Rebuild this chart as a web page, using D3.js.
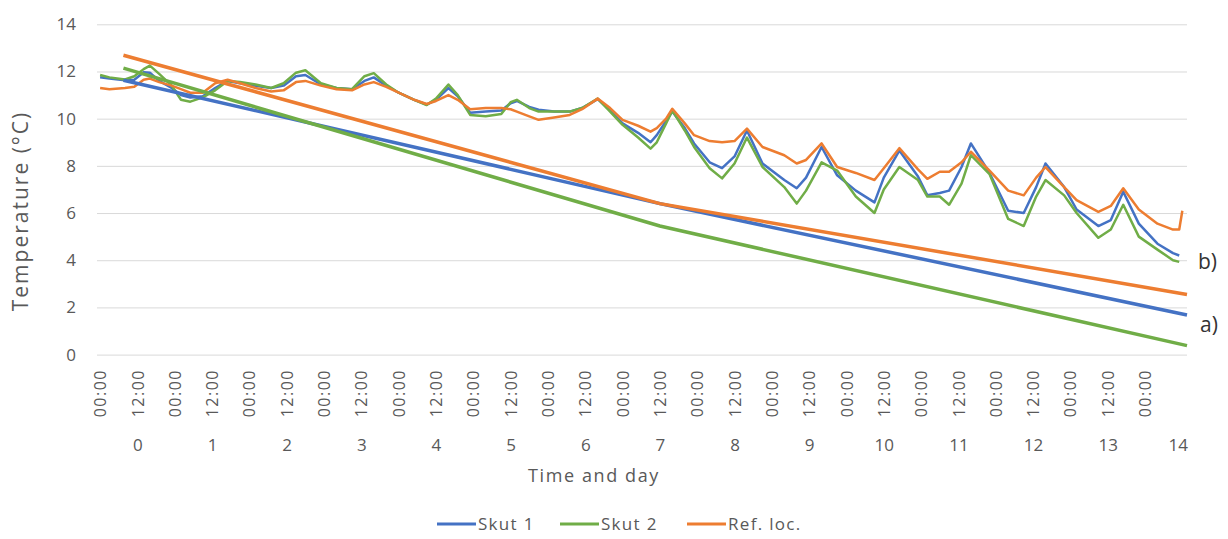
<!DOCTYPE html>
<html>
<head>
<meta charset="UTF-8">
<title>Temperature</title>
<style>
  body { margin: 0; background: #fff; }
  svg text { font-family: "Open Sans", sans-serif; fill: #595959; }
</style>
</head>
<body>
<script src="https://cdn.jsdelivr.net/npm/d3@7/dist/d3.min.js"></script>
<script>
// measured series, x in hours from day 0 00:00
var hours = [0, 3, 8, 11, 14, 16, 19, 23, 26, 29, 33, 37, 41, 45, 50, 55, 59, 63, 66, 71,
  76, 81, 85, 88, 92, 96, 101, 105, 108, 112, 115, 119, 124, 129, 132, 134, 138, 141, 146, 151,
  155, 160, 164, 168, 173, 177, 179, 182, 184, 188, 191, 196, 200, 204, 208, 213, 220, 224, 227, 232,
  237, 243, 249, 252, 257, 263, 266, 270, 273, 277, 280, 286, 292, 297, 301, 304, 310, 314, 321, 325,
  329, 334, 340, 345, 347, 348];

var skut1 = [11.76, 11.7, 11.63, 11.65, 11.97, 11.95, 11.6, 11.3, 11.0, 10.9, 10.95, 11.3, 11.6, 11.5, 11.4, 11.3, 11.4, 11.8, 11.85, 11.45,
  11.3, 11.25, 11.6, 11.75, 11.4, 11.1, 10.8, 10.6, 10.8, 11.3, 10.95, 10.25, 10.3, 10.35, 10.65, 10.75, 10.5, 10.38, 10.3, 10.3,
  10.45, 10.83, 10.35, 9.8, 9.4, 9.0, 9.3, 9.9, 10.3, 9.6, 8.95, 8.15, 7.9, 8.4, 9.5, 8.1, 7.4, 7.05, 7.5, 8.8,
  7.6, 6.95, 6.45, 7.5, 8.65, 7.55, 6.75, 6.85, 6.95, 7.95, 8.95, 7.7, 6.1, 6.0, 7.1, 8.1, 7.1, 6.15, 5.45, 5.7,
  6.9, 5.55, 4.7, 4.3, 4.2, null];

var skut2 = [11.85, 11.75, 11.66, 11.8, 12.1, 12.25, 11.9, 11.4, 10.8, 10.72, 10.9, 11.2, 11.6, 11.55, 11.45, 11.3, 11.5, 11.95, 12.05, 11.5,
  11.3, 11.25, 11.8, 11.93, 11.45, 11.1, 10.8, 10.58, 10.85, 11.45, 11.0, 10.16, 10.1, 10.2, 10.7, 10.8, 10.45, 10.3, 10.3, 10.3,
  10.45, 10.85, 10.3, 9.74, 9.2, 8.73, 9.0, 9.8, 10.35, 9.5, 8.8, 7.9, 7.47, 8.1, 9.2, 7.95, 7.1, 6.4, 6.95, 8.15,
  7.8, 6.7, 6.0, 7.0, 7.95, 7.4, 6.7, 6.7, 6.35, 7.25, 8.45, 7.65, 5.75, 5.45, 6.7, 7.4, 6.75, 6.0, 4.95, 5.3,
  6.35, 5.0, 4.45, 4.0, 3.93, null];

var refLoc = [11.3, 11.25, 11.3, 11.35, 11.65, 11.7, 11.55, 11.4, 11.25, 11.1, 11.1, 11.5, 11.65, 11.5, 11.3, 11.15, 11.2, 11.55, 11.6, 11.4,
  11.25, 11.2, 11.45, 11.55, 11.35, 11.1, 10.8, 10.62, 10.75, 11.0, 10.8, 10.4, 10.45, 10.45, 10.4, 10.3, 10.1, 9.95, 10.05, 10.16,
  10.4, 10.85, 10.45, 9.95, 9.7, 9.45, 9.6, 10.0, 10.42, 9.8, 9.3, 9.05, 9.0, 9.05, 9.58, 8.8, 8.45, 8.1, 8.25, 8.95,
  7.95, 7.7, 7.4, 7.9, 8.75, 7.85, 7.45, 7.75, 7.75, 8.15, 8.6, 7.8, 6.95, 6.75, 7.5, 7.95, 7.1, 6.55, 6.05, 6.3,
  7.05, 6.15, 5.55, 5.3, 5.3, 6.1];

// a) lines
var trendHours = [7.5, 180, 349.5];
var trendSkut1 = [11.63, 6.4, 1.68];
var trendSkut2 = [12.14, 5.45, 0.38];
var trendRef = [12.69, 6.4, 2.55];

var seriesNames = ["Skut 1", "Skut 2", "Ref. loc."];
var colors = ["#4472C4", "#70AD47", "#ED7D31"];

var yTicks = [0, 2, 4, 6, 8, 10, 12, 14];
var timeTickHours = d3.range(0, 337, 12);
var timeTickLabels = timeTickHours.map(function(h) { return h % 24 === 0 ? "00:00" : "12:00"; });
var dayTickHours = [12, 36, 60, 84, 108, 132, 156, 180, 204, 228, 252, 276, 300, 324, 346.5];
var dayLabels = ["0", "1", "2", "3", "4", "5", "6", "7", "8", "9", "10", "11", "12", "13", "14"];

var svg = d3.select("body").append("svg")
  .attr("width", 1228)
  .attr("height", 539);

var x = d3.scaleLinear().domain([-1, 349.5]).range([97, 1187]);
var y = d3.scaleLinear().domain([0, 14]).range([354.6, 24.3]);

// grid + y labels
var yAxis = svg.append("g")
  .attr("transform", "translate(97,0)")
  .call(d3.axisLeft(y).tickValues(yTicks).tickSize(-1090).tickPadding(21));
yAxis.select(".domain").remove();
yAxis.selectAll("line").attr("stroke", "#d9d9d9");
yAxis.selectAll("text").style("font-size", "17px").style("fill", "#595959");

// time labels
var xTime = svg.append("g")
  .attr("transform", "translate(0,355)")
  .call(d3.axisBottom(x).tickValues(timeTickHours).tickFormat(function(d, i) { return timeTickLabels[i]; }).tickSize(0));
xTime.select(".domain").remove();
xTime.selectAll("text")
  .attr("transform", "rotate(-90)")
  .attr("x", -14)
  .attr("y", 0)
  .attr("dy", "0.35em")
  .attr("text-anchor", "end")
  .style("font-size", "16px")
  .style("letter-spacing", "1.5px")
  .style("fill", "#595959");

// day labels
var xDay = svg.append("g")
  .attr("transform", "translate(0,436)")
  .call(d3.axisBottom(x).tickValues(dayTickHours).tickFormat(function(d, i) { return dayLabels[i]; }).tickSize(0));
xDay.select(".domain").remove();
xDay.selectAll("text").style("font-size", "17px").style("fill", "#595959");

var line = d3.line()
  .defined(function(d) { return d[1] !== null; })
  .x(function(d) { return x(d[0]); })
  .y(function(d) { return y(d[1]); });

var measured = [skut1, skut2, refLoc];
measured.forEach(function(vals, i) {
  svg.append("path")
    .datum(hours.map(function(h, j) { return [h, vals[j]]; }))
    .attr("fill", "none")
    .attr("stroke", colors[i])
    .attr("stroke-width", 2.5)
    .attr("stroke-linejoin", "round")
    .attr("d", line);
});

var trends = [trendSkut1, trendSkut2, trendRef];
trends.forEach(function(vals, i) {
  svg.append("path")
    .datum(trendHours.map(function(h, j) { return [h, vals[j]]; }))
    .attr("fill", "none")
    .attr("stroke", colors[i])
    .attr("stroke-width", 3.5)
    .attr("d", line);
});

// annotations
svg.append("text").attr("x", 1198).attr("y", 269).text("b)")
  .style("font-size", "21px").style("fill", "#333");
svg.append("text").attr("x", 1200).attr("y", 332).text("a)")
  .style("font-size", "21px").style("fill", "#333");

// axis titles
svg.append("text")
  .attr("transform", "translate(28,211) rotate(-90)")
  .attr("text-anchor", "middle")
  .style("font-size", "21px")
  .style("letter-spacing", "2px")
  .text("Temperature (°C)");

svg.append("text")
  .attr("x", 594).attr("y", 482)
  .attr("text-anchor", "middle")
  .style("font-size", "18px")
  .style("letter-spacing", "1.6px")
  .text("Time and day");

// legend
var legendX = [437, 560, 687];
var legend = svg.append("g");
seriesNames.forEach(function(name, i) {
  legend.append("line")
    .attr("x1", legendX[i]).attr("x2", legendX[i] + 39)
    .attr("y1", 524).attr("y2", 524)
    .attr("stroke", colors[i]).attr("stroke-width", 3);
  legend.append("text")
    .attr("x", legendX[i] + 41).attr("y", 530)
    .style("font-size", "17px")
    .style("letter-spacing", "1.3px")
    .text(name);
});
</script>
</body>
</html>
